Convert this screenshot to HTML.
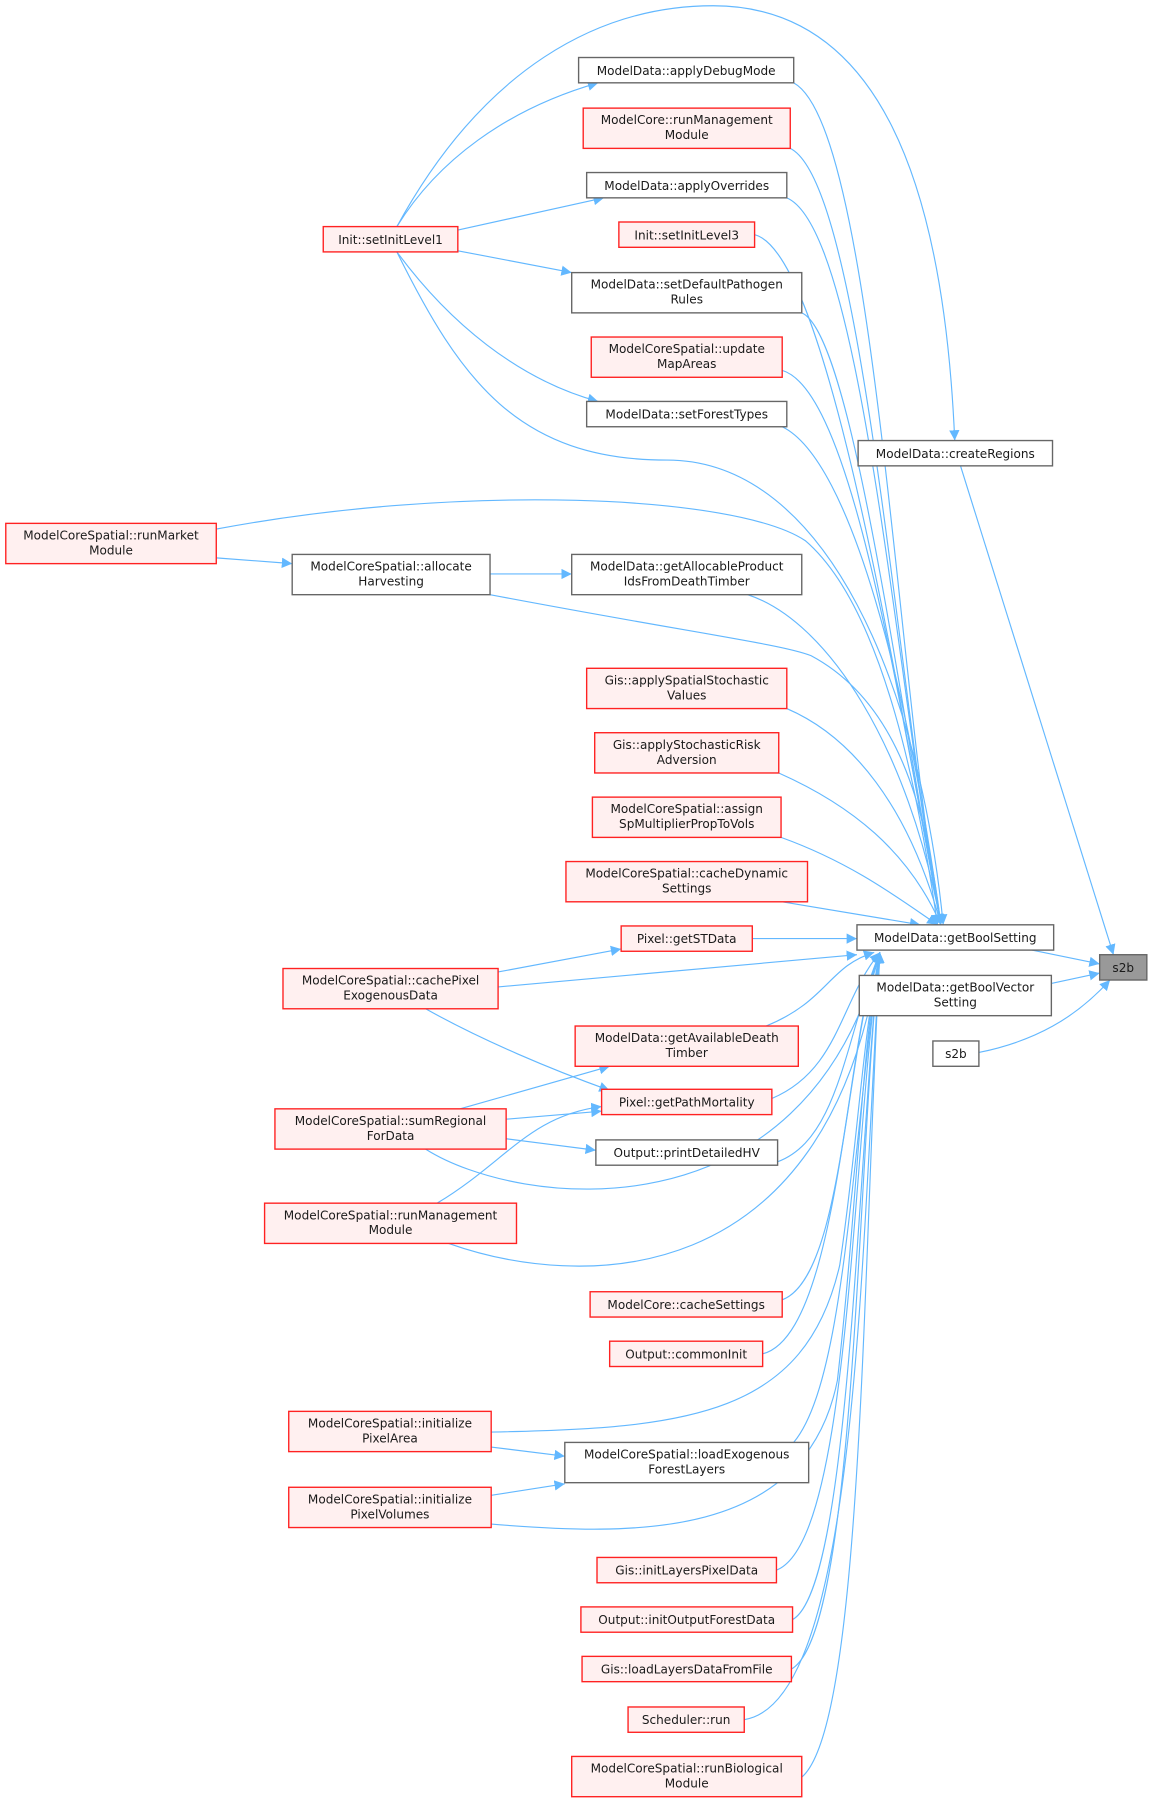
<!DOCTYPE html>
<html><head><meta charset="utf-8"><style>
html,body{margin:0;padding:0;background:#fff;}
svg{display:block;}
text{font-family:"DejaVu Sans","Liberation Sans",sans-serif;font-size:10.5px;fill:#1a1a1a;}
.r{fill:#fff0f0;stroke:#ff2222;stroke-width:1.2;}
.g{fill:#fff;stroke:#666;stroke-width:1.2;}
.e{fill:none;stroke:#63b8ff;stroke-width:1;}
</style></head><body>
<svg width="1151" height="1799" viewBox="0 0 1000.6 1564" xmlns="http://www.w3.org/2000/svg">
<defs><marker id="a" viewBox="0 0 10 10" refX="10" refY="5" markerWidth="9" markerHeight="9" markerUnits="userSpaceOnUse" orient="auto"><path d="M0,0L10,5L0,10z" fill="#63b8ff"/></marker></defs>
<g class="e" marker-end="url(#a)">
<path d="M345,197 C380,140 440,95 520,72"/>
<path d="M345,197 C420,60 520,5 620,5 C760,5 820,150 830,383"/>
<path d="M398,200 L525,172"/>
<path d="M398,218 L497,237"/>
<path d="M345,219 C390,280 450,330 520,349"/>
<path d="M345,219 C400,330 450,400 580,400 C720,400 800,600 820,804"/>
<path d="M188,485 L254,490"/>
<path d="M188,460 C400,420 640,430 700,470 C770,530 800,700 815,804"/>
<path d="M426,499 L497,499"/>
<path d="M426,517 C600,550 680,560 705,570 C780,610 805,700 818,804"/>
<path d="M835,405 L968,830"/>
<path d="M897,826 L956,838"/>
<path d="M914,855 L956,846"/>
<path d="M851,915 C900,905 935,885 965,852"/>
<path d="M433,845 L540,825"/>
<path d="M433,858 L745,830"/>
<path d="M370,877 C420,905 480,930 530,948"/>
<path d="M400,964 L530,927"/>
<path d="M440,973 L523,966"/>
<path d="M440,990 L518,1000"/>
<path d="M370,999 C450,1050 700,1080 765,828"/>
<path d="M380,1046 C440,1010 460,970 523,962"/>
<path d="M390,1081 C500,1120 720,1130 765,828"/>
<path d="M427,1258 L491,1266"/>
<path d="M427,1245 C600,1242 700,1230 730,1100 C745,1000 750,900 765,828"/>
<path d="M427,1300 L491,1290"/>
<path d="M427,1325 C550,1335 700,1340 728,1200 C745,1050 750,900 765,828"/>
<path d="M690,1254 C735,1200 740,1000 765,828"/>
<path d="M654,816 L745,816"/>
<path d="M690,72 C760,110 780,600 818,804"/>
<path d="M687,129 C750,160 780,600 818,804"/>
<path d="M684,172 C750,200 780,600 818,804"/>
<path d="M656,204 C720,220 780,600 818,804"/>
<path d="M697,272 C740,290 780,600 818,804"/>
<path d="M680,322 C740,340 780,600 818,804"/>
<path d="M680,371 C740,400 790,600 818,804"/>
<path d="M650,517 C720,540 790,650 818,804"/>
<path d="M684,616 C740,640 790,700 818,804"/>
<path d="M677,672 C740,700 790,740 818,804"/>
<path d="M679,728 C740,750 780,780 815,804"/>
<path d="M680,784 L800,804"/>
<path d="M666,892 C720,870 720,840 760,828"/>
<path d="M671,955 C730,930 730,870 765,828"/>
<path d="M676,1010 C730,990 735,900 765,828"/>
<path d="M680,1130 C735,1110 735,900 765,828"/>
<path d="M663,1177 C730,1160 735,900 765,828"/>
<path d="M675,1365 C740,1340 740,1000 765,828"/>
<path d="M689,1408 C740,1380 745,1000 765,828"/>
<path d="M688,1451 C745,1420 745,1000 765,828"/>
<path d="M647,1495 C745,1480 748,1100 765,828"/>
<path d="M697,1545 C750,1500 750,1100 765,828"/>
</g>
<g>
<rect class="g" x="503" y="50" width="187" height="22"/><text x="596.5" y="65" text-anchor="middle">ModelData::applyDebugMode</text>
<rect class="r" x="507" y="94" width="180" height="35"/><text x="597" y="108" text-anchor="middle">ModelCore::runManagement</text><text x="597" y="121" text-anchor="middle">Module</text>
<rect class="g" x="510" y="150" width="174" height="22"/><text x="597" y="165" text-anchor="middle">ModelData::applyOverrides</text>
<rect class="r" x="538" y="193" width="118" height="22"/><text x="597" y="208" text-anchor="middle">Init::setInitLevel3</text>
<rect class="g" x="497" y="237" width="200" height="35"/><text x="597" y="251" text-anchor="middle">ModelData::setDefaultPathogen</text><text x="597" y="264" text-anchor="middle">Rules</text>
<rect class="r" x="514" y="293" width="166" height="35"/><text x="597" y="307" text-anchor="middle">ModelCoreSpatial::update</text><text x="597" y="320" text-anchor="middle">MapAreas</text>
<rect class="g" x="510" y="349" width="174" height="22"/><text x="597" y="364" text-anchor="middle">ModelData::setForestTypes</text>
<rect class="g" x="746" y="383" width="169" height="22"/><text x="830.5" y="398" text-anchor="middle">ModelData::createRegions</text>
<rect class="r" x="281" y="197" width="117" height="22"/><text x="339.5" y="212" text-anchor="middle">Init::setInitLevel1</text>
<rect class="r" x="5" y="455" width="183" height="35"/><text x="96.5" y="469" text-anchor="middle">ModelCoreSpatial::runMarket</text><text x="96.5" y="482" text-anchor="middle">Module</text>
<rect class="g" x="254" y="482" width="172" height="35"/><text x="340" y="496" text-anchor="middle">ModelCoreSpatial::allocate</text><text x="340" y="509" text-anchor="middle">Harvesting</text>
<rect class="g" x="497" y="482" width="200" height="35"/><text x="597" y="496" text-anchor="middle">ModelData::getAllocableProduct</text><text x="597" y="509" text-anchor="middle">IdsFromDeathTimber</text>
<rect class="r" x="510" y="581" width="174" height="35"/><text x="597" y="595" text-anchor="middle">Gis::applySpatialStochastic</text><text x="597" y="608" text-anchor="middle">Values</text>
<rect class="r" x="517" y="637" width="160" height="35"/><text x="597" y="651" text-anchor="middle">Gis::applyStochasticRisk</text><text x="597" y="664" text-anchor="middle">Adversion</text>
<rect class="r" x="515" y="693" width="164" height="35"/><text x="597" y="707" text-anchor="middle">ModelCoreSpatial::assign</text><text x="597" y="720" text-anchor="middle">SpMultiplierPropToVols</text>
<rect class="r" x="492" y="749" width="210" height="35"/><text x="597" y="763" text-anchor="middle">ModelCoreSpatial::cacheDynamic</text><text x="597" y="776" text-anchor="middle">Settings</text>
<rect class="r" x="540" y="805" width="114" height="22"/><text x="597" y="820" text-anchor="middle">Pixel::getSTData</text>
<rect class="g" x="745" y="804" width="171" height="22"/><text x="830.5" y="819" text-anchor="middle">ModelData::getBoolSetting</text>
<rect x="956" y="830" width="41" height="22" fill="#999" stroke="#666" stroke-width="1.2"/><text x="976.5" y="845" text-anchor="middle">s2b</text>
<rect class="g" x="747" y="848" width="167" height="35"/><text x="830.5" y="862" text-anchor="middle">ModelData::getBoolVector</text><text x="830.5" y="875" text-anchor="middle">Setting</text>
<rect class="g" x="811" y="905" width="40" height="22"/><text x="831" y="920" text-anchor="middle">s2b</text>
<rect class="r" x="246" y="842" width="187" height="35"/><text x="339.5" y="856" text-anchor="middle">ModelCoreSpatial::cachePixel</text><text x="339.5" y="869" text-anchor="middle">ExogenousData</text>
<rect class="r" x="500" y="892" width="194" height="35"/><text x="597" y="906" text-anchor="middle">ModelData::getAvailableDeath</text><text x="597" y="919" text-anchor="middle">Timber</text>
<rect class="r" x="523" y="947" width="148" height="22"/><text x="597" y="962" text-anchor="middle">Pixel::getPathMortality</text>
<rect class="r" x="239" y="964" width="201" height="35"/><text x="339.5" y="978" text-anchor="middle">ModelCoreSpatial::sumRegional</text><text x="339.5" y="991" text-anchor="middle">ForData</text>
<rect class="g" x="518" y="991" width="158" height="22"/><text x="597" y="1006" text-anchor="middle">Output::printDetailedHV</text>
<rect class="r" x="230" y="1046" width="219" height="35"/><text x="339.5" y="1060" text-anchor="middle">ModelCoreSpatial::runManagement</text><text x="339.5" y="1073" text-anchor="middle">Module</text>
<rect class="r" x="513" y="1123" width="167" height="22"/><text x="596.5" y="1138" text-anchor="middle">ModelCore::cacheSettings</text>
<rect class="r" x="530" y="1166" width="133" height="22"/><text x="596.5" y="1181" text-anchor="middle">Output::commonInit</text>
<rect class="r" x="251" y="1227" width="176" height="35"/><text x="339" y="1241" text-anchor="middle">ModelCoreSpatial::initialize</text><text x="339" y="1254" text-anchor="middle">PixelArea</text>
<rect class="g" x="491" y="1254" width="212" height="35"/><text x="597" y="1268" text-anchor="middle">ModelCoreSpatial::loadExogenous</text><text x="597" y="1281" text-anchor="middle">ForestLayers</text>
<rect class="r" x="251" y="1293" width="176" height="35"/><text x="339" y="1307" text-anchor="middle">ModelCoreSpatial::initialize</text><text x="339" y="1320" text-anchor="middle">PixelVolumes</text>
<rect class="r" x="519" y="1354" width="156" height="22"/><text x="597" y="1369" text-anchor="middle">Gis::initLayersPixelData</text>
<rect class="r" x="505" y="1397" width="184" height="22"/><text x="597" y="1412" text-anchor="middle">Output::initOutputForestData</text>
<rect class="r" x="506" y="1440" width="182" height="22"/><text x="597" y="1455" text-anchor="middle">Gis::loadLayersDataFromFile</text>
<rect class="r" x="546" y="1484" width="101" height="22"/><text x="596.5" y="1499" text-anchor="middle">Scheduler::run</text>
<rect class="r" x="497" y="1527" width="200" height="35"/><text x="597" y="1541" text-anchor="middle">ModelCoreSpatial::runBiological</text><text x="597" y="1554" text-anchor="middle">Module</text>
</g>
</svg>
</body></html>
